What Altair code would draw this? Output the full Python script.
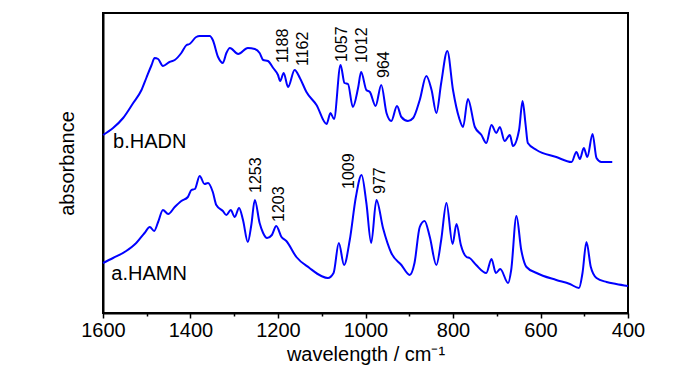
import altair as alt
import pandas as pd

# ---- data ----
# b.HADN (upper trace): wavenumber (cm-1) and absorbance (arb. units)
hadn_wn = [1600, 1577, 1554, 1531, 1512, 1501, 1489, 1482, 1474, 1463, 1448, 1436,
           1421, 1409, 1402, 1387, 1379, 1356, 1349, 1337, 1326, 1318, 1310, 1291,
           1269, 1253, 1242, 1234, 1223, 1211, 1200, 1195, 1187, 1177, 1162, 1150,
           1135, 1112, 1089, 1080, 1072, 1057, 1048, 1040, 1029, 1017, 1010, 998,
           990, 977, 964, 952, 941, 928, 918, 903, 891, 876, 861, 849, 838, 827,
           813, 800, 786, 777, 766, 750, 735, 724, 712, 701, 693, 682, 670, 663,
           649, 641, 634, 629, 609, 564, 529, 518, 510, 501, 493, 481, 472, 461,
           453, 436]
hadn_abs = [1.78, 1.85, 1.95, 2.10, 2.23, 2.35, 2.48, 2.55, 2.54, 2.47, 2.51, 2.53,
            2.60, 2.68, 2.69, 2.76, 2.77, 2.77, 2.73, 2.56, 2.50, 2.60, 2.65, 2.59,
            2.65, 2.64, 2.60, 2.53, 2.52, 2.45, 2.38, 2.32, 2.40, 2.26, 2.43, 2.35,
            2.21, 2.08, 1.89, 2.00, 1.94, 2.48, 2.30, 2.29, 2.06, 2.25, 2.41, 2.23,
            2.21, 2.07, 2.28, 2.00, 1.92, 2.07, 1.96, 1.92, 1.95, 2.13, 2.37, 2.23,
            2.00, 2.30, 2.62, 2.23, 1.95, 1.86, 2.14, 1.86, 1.78, 1.70, 1.88, 1.80,
            1.86, 1.72, 1.78, 1.67, 1.83, 2.12, 1.88, 1.70, 1.63, 1.56, 1.51, 1.61,
            1.54, 1.65, 1.56, 1.79, 1.55, 1.51, 1.51, 1.51]

# a.HAMN (lower trace)
hamn_wn = [1600, 1577, 1547, 1524, 1505, 1493, 1483, 1474, 1463, 1451, 1436, 1421,
           1406, 1398, 1390, 1379, 1368, 1360, 1349, 1341, 1326, 1318, 1308, 1299,
           1289, 1280, 1269, 1261, 1253, 1242, 1234, 1225, 1214, 1204, 1192, 1181,
           1158, 1128, 1101, 1086, 1073, 1061, 1049, 1036, 1022, 1009, 998, 987,
           975, 960, 941, 918, 899, 888, 876, 865, 853, 838, 827, 815, 801, 792,
           782, 769, 762, 747, 724, 712, 702, 692, 674, 667, 655, 644, 632, 609,
           564, 533, 512, 504, 495, 485, 472, 449, 427, 400]
hamn_abs = [0.50, 0.55, 0.62, 0.70, 0.80, 0.86, 0.82, 0.91, 1.03, 0.99, 1.06, 1.12,
            1.16, 1.23, 1.24, 1.37, 1.29, 1.30, 1.21, 1.08, 1.02, 0.98, 1.03, 0.96,
            1.05, 0.93, 0.71, 0.88, 1.13, 0.90, 0.80, 0.75, 0.78, 0.87, 0.76, 0.72,
            0.56, 0.45, 0.37, 0.35, 0.40, 0.70, 0.48, 0.73, 1.16, 1.38, 1.10, 0.70,
            1.13, 0.85, 0.60, 0.48, 0.38, 0.50, 0.86, 0.92, 0.76, 0.48, 0.73, 1.10,
            0.69, 0.89, 0.68, 0.56, 0.55, 0.48, 0.40, 0.54, 0.40, 0.44, 0.30, 0.43,
            0.97, 0.63, 0.46, 0.40, 0.33, 0.29, 0.25, 0.40, 0.71, 0.46, 0.35, 0.31,
            0.29, 0.27]

# peak annotations: text, wavenumber where the label sits, absorbance at label foot
peak_text = ["1188", "1162", "1057", "1012", "964", "1253", "1203", "1009", "977"]
peak_wn = [1189, 1144, 1053, 1008, 958, 1251, 1198, 1038, 966]
peak_abs = [2.50, 2.47, 2.51, 2.50, 2.35, 1.20, 0.91, 1.24, 1.19]

# trace names
name_text = ["b.HADN", "a.HAMN"]
name_wn = [1577, 1581]
name_abs = [1.65, 0.33]

x_ticks = [1600, 1500, 1400, 1300, 1200, 1100, 1000, 900, 800, 700, 600, 500, 400]

# ---- tables ----
spec = pd.concat([
    pd.DataFrame({"wn": hadn_wn, "a": hadn_abs, "s": "HADN", "o": range(len(hadn_wn))}),
    pd.DataFrame({"wn": hamn_wn, "a": hamn_abs, "s": "HAMN", "o": range(len(hamn_wn))}),
])
peaks = pd.DataFrame({"t": peak_text, "wn": peak_wn, "a": peak_abs})
names = pd.DataFrame({"t": name_text, "wn": name_wn, "a": name_abs})

FONT = "Liberation Sans"

xscale = alt.Scale(domain=[1600, 400], nice=False, zero=False)
yscale = alt.Scale(domain=[0, 3.0], nice=False, zero=False)

x_axis = alt.Axis(
    values=x_ticks,
    format="d",
    title="wavelength / cm\u207b\u00b9",
    titleFont=FONT, titleFontSize=20, titleFontWeight="normal", titleColor="black",
    titlePadding=4,
    labelFont=FONT, labelFontSize=20, labelColor="black", labelPadding=2,
    labelExpr="datum.value % 200 === 0 ? datum.label : ''",
    labelFlush=False,
    tickColor="black", tickWidth=1.5,
    tickSize={"condition": {"test": "datum.value % 200 === 0", "value": 5}, "value": 3},
    domainColor="black", domainWidth=2, grid=False,
)
y_axis = alt.Axis(
    title="absorbance", titleFont=FONT, titleFontSize=20, titleFontWeight="normal",
    titleColor="black", titlePadding=26,
    labels=False, ticks=False, domainColor="black", domainWidth=2, grid=False,
)

lines = alt.Chart(spec).mark_line(color="#0000ff", strokeWidth=2, interpolate="monotone").encode(
    x=alt.X("wn:Q", scale=xscale, axis=x_axis),
    y=alt.Y("a:Q", scale=yscale, axis=y_axis),
    detail="s:N",
    order="o:Q",
)

peak_labels = alt.Chart(peaks).mark_text(
    angle=270, align="left", baseline="middle", font=FONT, fontSize=16, color="black"
).encode(
    x=alt.X("wn:Q", scale=xscale),
    y=alt.Y("a:Q", scale=yscale),
    text="t:N",
)

name_labels = alt.Chart(names).mark_text(
    align="left", baseline="alphabetic", font=FONT, fontSize=20, color="black"
).encode(
    x=alt.X("wn:Q", scale=xscale),
    y=alt.Y("a:Q", scale=yscale),
    text="t:N",
)

chart = alt.layer(lines, peak_labels, name_labels).properties(
    width=525, height=300,
    autosize=alt.AutoSizeParams(type="none"),
    padding={"left": 95, "top": 5, "right": 64, "bottom": 53},
    background="white",
).configure_view(stroke="black", strokeWidth=2)

chart.save("out.html", embed_options={"renderer": "svg", "actions": False})
